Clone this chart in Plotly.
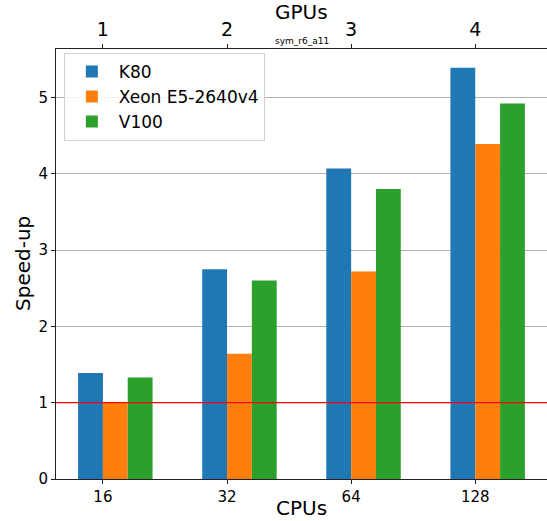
import plotly.graph_objects as go

cpus = ["16", "32", "64", "128"]
gpus = ["1", "2", "3", "4"]
series_names = ["K80", "Xeon E5-2640v4", "V100"]
k80 = [1.39, 2.75, 4.07, 5.39]
xeon = [1.00, 1.64, 2.72, 4.39]
v100 = [1.33, 2.60, 3.80, 4.92]
colors = ["#1f77b4", "#ff7f0e", "#2ca02c"]
baseline = 1.0

pos = list(range(len(cpus)))
bar_w = 0.2
offsets = [-bar_w, 0.0, bar_w]  # left edge of each series' bar relative to the tick
font = "DejaVu Sans, Arial, sans-serif"
xr = [-0.378, 3.578]

fig = go.Figure()
for name, vals, c, off in zip(series_names, [k80, xeon, v100], colors, offsets):
    fig.add_trace(go.Bar(x=pos, y=vals, name=name, width=bar_w, offset=off,
                         marker=dict(color=c, line=dict(width=0))))
fig.add_trace(go.Scatter(x=pos, y=[None]*len(pos), xaxis="x2", showlegend=False, hoverinfo="skip"))

fig.add_shape(type="line", xref="paper", x0=0, x1=1, yref="y", y0=baseline, y1=baseline,
              line=dict(color="red", width=1.3))

fig.update_layout(
    width=547, height=521,
    margin=dict(l=56, r=0, t=49, b=42, autoexpand=False),
    plot_bgcolor="white", paper_bgcolor="white",
    font=dict(family=font, color="black"),
    barmode="overlay",
    xaxis=dict(range=xr, tickvals=pos, ticktext=cpus, showline=True, linecolor="#222",
               linewidth=1.1, ticks="outside", ticklen=4, tickcolor="#222", showgrid=False,
               tickfont=dict(size=15), automargin=False, zeroline=False, fixedrange=True),
    xaxis2=dict(range=xr, overlaying="x", side="top", tickvals=pos, ticktext=gpus,
                showline=True, linecolor="#222", linewidth=1.1, ticks="outside", ticklen=4,
                tickcolor="#222", showgrid=False, tickfont=dict(size=19), automargin=False,
                zeroline=False),
    yaxis=dict(range=[0, 5.635], tickvals=[0, 1, 2, 3, 4, 5], showline=True, linecolor="#222",
               linewidth=1.1, ticks="outside", ticklen=4, tickcolor="#222", showgrid=True,
               gridcolor="#b0b0b0", gridwidth=1, tickfont=dict(size=15), zeroline=False,
               automargin=False),
    legend=dict(x=0.016, y=0.991, xanchor="left", yanchor="top", bgcolor="rgba(255,255,255,0.85)",
                bordercolor="#d0d0d0", borderwidth=1, font=dict(size=17), tracegroupgap=0,
                itemwidth=44),
    showlegend=True,
    annotations=[
        dict(text="sym_r6_a11", xref="paper", yref="paper", x=0.5, y=1.0, yshift=1,
             xanchor="center", yanchor="bottom", showarrow=False, font=dict(size=9)),
        dict(text="CPUs", xref="paper", yref="paper", x=0.5, y=0, yshift=-15,
             xanchor="center", yanchor="top", showarrow=False, font=dict(size=20)),
        dict(text="GPUs", xref="paper", yref="paper", x=0.5, y=1, yshift=23,
             xanchor="center", yanchor="bottom", showarrow=False, font=dict(size=20)),
        dict(text="Speed-up", xref="paper", yref="paper", x=0, y=0.5, xshift=-33, textangle=-90,
             xanchor="center", yanchor="middle", showarrow=False, font=dict(size=20)),
    ],
)

fig.write_html("out.html", config={"displayModeBar": False},
               post_script="document.body.style.margin='0';")
